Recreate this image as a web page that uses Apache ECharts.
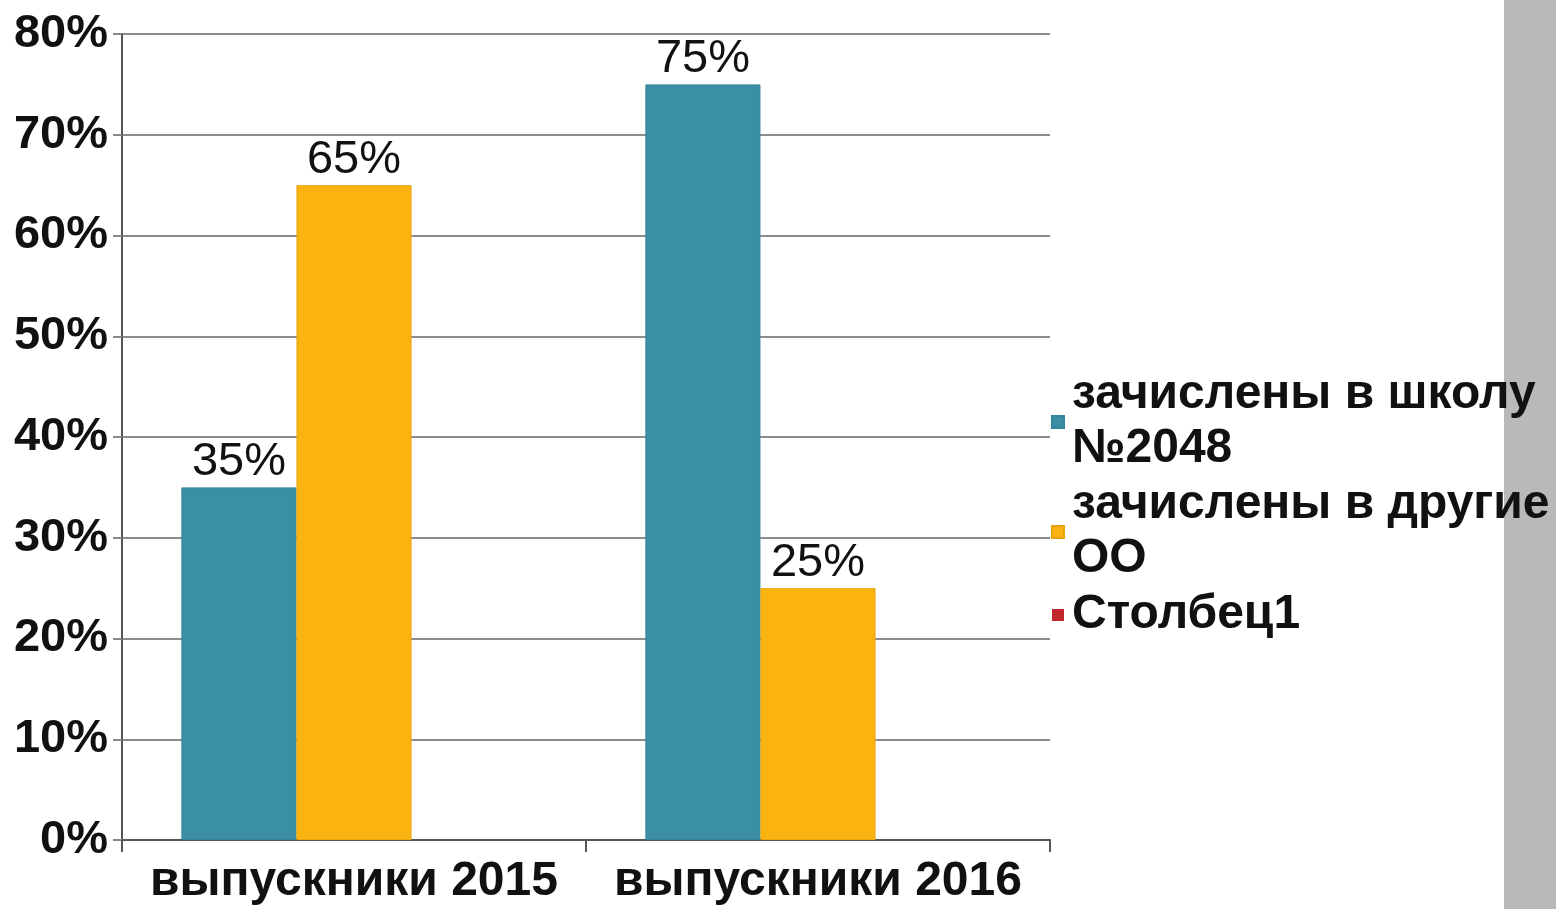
<!DOCTYPE html>
<html><head><meta charset="utf-8">
<script src="https://cdn.jsdelivr.net/npm/echarts@6/dist/echarts.min.js"></script>
<style>html,body{margin:0;padding:0;background:#fff}#c{width:1556px;height:909px}</style>
</head><body><div id="c"></div>
<script>
var categories = ['выпускники 2015', 'выпускники 2016'];
var seriesNames = ['зачислены в школу\n№2048', 'зачислены в другие\nОО', 'Столбец1'];
var school2048 = [35, 75];
var otherSchools = [65, 25];
var column1 = [null, null];
var yTicks = [0, 10, 20, 30, 40, 50, 60, 70, 80];

var FONT = '"Liberation Sans", Arial, sans-serif';
var chart = echarts.init(document.getElementById('c'), null, {renderer: 'canvas'});
var labelCfg = {show: true, position: 'top', distance: 2, formatter: '{c}%', fontFamily: FONT, fontSize: 47, color: '#111', backgroundColor: '#fff'};
chart.setOption({
  animation: false,
  backgroundColor: '#fff',
  graphic: [{type: 'rect', z: -10, shape: {x: 1504, y: 0, width: 52, height: 909}, style: {fill: '#b9b9b9'}}],
  grid: {left: 122, right: 506, top: 34, bottom: 69, containLabel: false},
  legend: {
    orient: 'vertical', left: 1046, top: 363, itemWidth: 12, itemHeight: 12, itemGap: 2,
    icon: 'rect', z: 10,
    textStyle: {fontFamily: FONT, fontSize: 48, fontWeight: 'bold', color: '#111', lineHeight: 54, padding: [0, 0, 0, 3]},
    data: seriesNames
  },
  xAxis: {
    type: 'category', data: categories,
    axisLine: {lineStyle: {color: '#555', width: 2}},
    axisTick: {show: true, interval: 0, length: 12, lineStyle: {color: '#555', width: 2}},
    axisLabel: {interval: 0, fontFamily: FONT, fontSize: 48, fontWeight: 'bold', color: '#111', margin: 18}
  },
  yAxis: {
    type: 'value', min: yTicks[0], max: yTicks[yTicks.length - 1], interval: 10,
    axisLine: {show: true, lineStyle: {color: '#555', width: 2}},
    axisTick: {show: true, length: 9, lineStyle: {color: '#888', width: 2}},
    splitLine: {lineStyle: {color: '#8c8c8c', width: 2}},
    axisLabel: {formatter: '{value}%', fontFamily: FONT, fontSize: 47, fontWeight: 'bold', color: '#111', margin: 14}
  },
  series: [
    {name: seriesNames[0], type: 'bar', data: school2048, barGap: '0%', barCategoryGap: '25.6%',
     itemStyle: {color: '#3a8fa6', borderColor: '#35849a', borderWidth: 1}, label: labelCfg},
    {name: seriesNames[1], type: 'bar', data: otherSchools, barGap: '0%', barCategoryGap: '25.6%',
     itemStyle: {color: '#fbb40f', borderColor: '#e8a60c', borderWidth: 1}, label: labelCfg},
    {name: seriesNames[2], type: 'bar', data: column1, barGap: '0%', barCategoryGap: '25.6%',
     itemStyle: {color: '#c0282d'}, label: labelCfg}
  ]
});
</script></body></html>
